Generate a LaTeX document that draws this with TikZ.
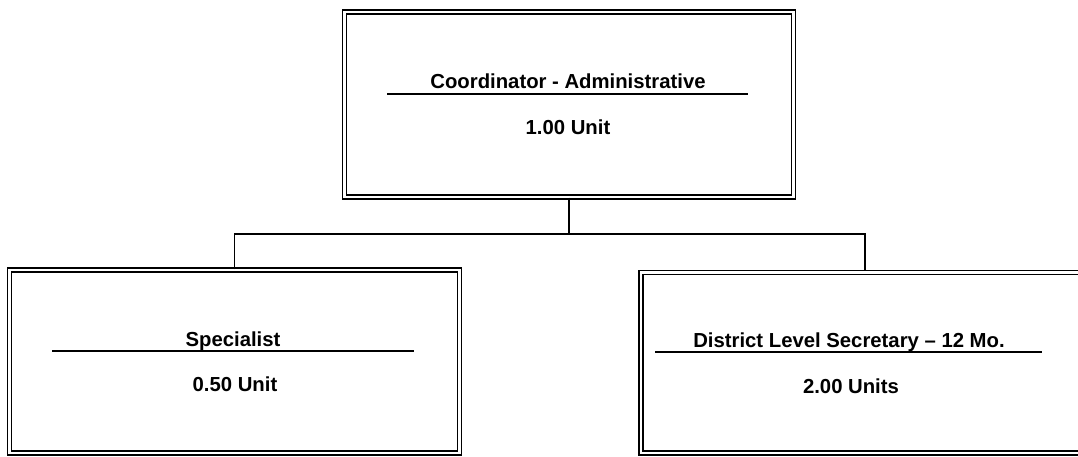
\documentclass[tikz,border=0pt]{standalone}
\usepackage{fontspec}
\setmainfont{Liberation Sans}
\begin{document}
\begin{tikzpicture}[x=1pt,y=-1pt,
  orgbox/.style={draw=black, line width=1.4pt, double=white, double distance=2.6pt, inner sep=0pt},
  lbl/.style={font=\fontsize{20.3}{24}\selectfont\bfseries, anchor=base, inner sep=0pt},
  uline/.style={line width=1.4pt},
  conn/.style={line width=1.4pt}]
\useasboundingbox (0,0) rectangle (1078,457);
\clip (0,0) rectangle (1078,457);
% boxes
\node[orgbox, minimum width=449pt, minimum height=185pt] (top) at (569,104.5) {};
\node[orgbox, minimum width=450pt, minimum height=183pt] (left) at (234.5,361.5) {};
\node[orgbox, minimum width=449pt, minimum height=180.5pt] (right) at (865.5,362.75) {};
% texts
\node[lbl] (t1) at (568,89) {Coordinator - Administrative};
\draw[uline] (387,94) -- (748,94);
\node[lbl] (t2) at (568,135) {1.00 Unit};
\node[lbl] (l1) at (233,346) {Specialist};
\draw[uline] (52,351) -- (414,351);
\node[lbl] (l2) at (235,391) {0.50 Unit};
\node[lbl] (r1) at (849,347) {District Level Secretary -- 12 Mo.};
\draw[uline] (655,352) -- (1042,352);
\node[lbl] (r2) at (851,393) {2.00 Units};
% connectors
\coordinate (j) at (569,234);
\coordinate (rc) at (865,269.5);
\draw[conn] (top.south) -- (j);
\draw[conn] (left.north) |- (j) -| (rc);
\end{tikzpicture}
\end{document}
